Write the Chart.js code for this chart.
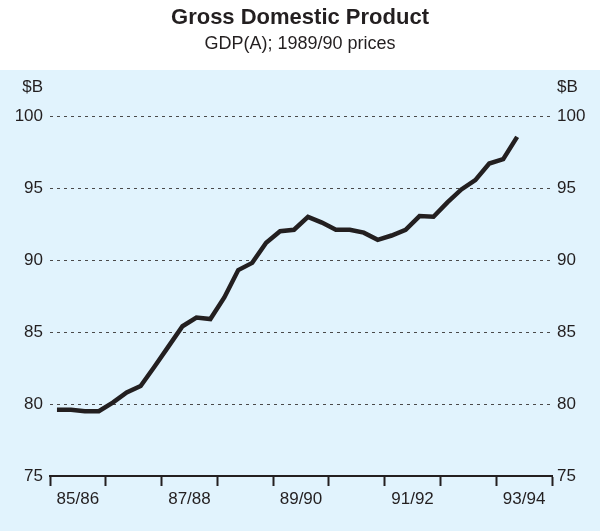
<!DOCTYPE html>
<html>
<head>
<meta charset="utf-8">
<script src="https://cdn.jsdelivr.net/npm/chart.js@4"></script>
<style>
  html, body { margin: 0; padding: 0; background: #fff; }
  #wrap { width: 600px; height: 531px; }
</style>
</head>
<body>
<div id="wrap"><canvas id="gdpChart" width="600" height="531"></canvas></div>
<script>
// financial years shown along the bottom
const yearLabels = ['85/86', '86/87', '87/88', '88/89', '89/90', '90/91', '91/92', '92/93', '93/94'];
// quarterly GDP(A), $B at 1989/90 prices, Sep 1985 to Dec 1993
const gdpValues = [
    79.6, 79.6, 79.5, 79.5, 80.1, 80.8, 81.25, 82.6, 84.0, 85.4,
    86.0, 85.9, 87.4, 89.3, 89.8, 91.2, 92.0, 92.1, 93.0, 92.6,
    92.1, 92.1, 91.9, 91.4, 91.7, 92.1, 93.05, 93.0, 94.0, 94.9,
    95.55, 96.7, 97.0, 98.55
];
const yTicks = [75, 80, 85, 90, 95, 100];

const ink = '#231f20';
const panelBlue = '#e1f3fd';
const font = 'Liberation Sans, Arial, Helvetica, sans-serif';

// quarters sit in the middle of each quarter slot
const gdpPoints = gdpValues.map((v, i) => ({ x: i + 0.5, y: v }));

const backdrop = {
    id: 'backdrop',
    beforeDraw(chart) {
        const ctx = chart.ctx;
        ctx.save();
        ctx.fillStyle = '#ffffff';
        ctx.fillRect(0, 0, chart.width, chart.height);
        ctx.fillStyle = panelBlue;
        ctx.fillRect(0, 70, chart.width, chart.height - 70);
        ctx.restore();
    },
    afterDraw(chart) {
        // unit labels above each y axis
        const ctx = chart.ctx;
        const y = chart.scales.y.top - 29;
        ctx.save();
        ctx.fillStyle = ink;
        ctx.font = '17px ' + font;
        ctx.textBaseline = 'middle';
        ctx.textAlign = 'right';
        ctx.fillText('$B', chart.scales.y.right - 7, y);
        ctx.textAlign = 'left';
        ctx.fillText('$B', chart.scales.y2.left + 5, y);
        ctx.restore();
    }
};

new Chart(document.getElementById('gdpChart'), {
    type: 'line',
    data: {
        labels: yearLabels,
        datasets: [{
            label: 'GDP(A)',
            data: gdpPoints,
            xAxisID: 'xq',
            yAxisID: 'y',
            borderColor: ink,
            borderWidth: 4.5,
            pointRadius: 0,
            tension: 0,
            fill: false,
        }],
    },
    options: {
        responsive: false,
        animation: false,
        devicePixelRatio: 1,
        layout: { padding: 0 },
        plugins: {
            legend: { display: false },
            tooltip: { enabled: false },
            title: {
                display: true,
                text: 'Gross Domestic Product',
                color: ink,
                font: { family: font, size: 22, weight: 'bold' },
                padding: { top: 5, bottom: 0 },
            },
            subtitle: {
                display: true,
                text: 'GDP(A); 1989/90 prices',
                color: ink,
                font: { family: font, size: 18 },
                padding: { top: 2, bottom: 61 },
            },
        },
        scales: {
            x: {
                type: 'category',
                position: 'bottom',
                offset: true,
                grid: {
                    offset: true,
                    drawOnChartArea: false,
                    drawTicks: true,
                    tickLength: 10,
                    tickWidth: 2,
                    tickColor: ink,
                },
                border: { display: true, color: ink, width: 2 },
                ticks: {
                    color: ink,
                    font: { family: font, size: 17 },
                    autoSkip: false,
                    maxRotation: 0,
                    padding: 3,
                    callback: (v, i) => (i % 2 === 0 ? yearLabels[i] : ''),
                },
                afterFit: (s) => { s.height = 55; },
            },
            xq: {
                type: 'linear',
                display: false,
                min: 0,
                max: yearLabels.length * 4,
            },
            y: {
                position: 'left',
                min: 75,
                max: 100,
                afterBuildTicks: (s) => { s.ticks = yTicks.map(v => ({ value: v })); },
                grid: {
                    drawTicks: false,
                    lineWidth: 1,
                    color: (c) => (c.tick && c.tick.value === 75 ? 'rgba(0,0,0,0)' : '#4a4a4a'),
                },
                border: { display: false, dash: [3, 4] },
                ticks: {
                    color: ink,
                    font: { family: font, size: 17 },
                    padding: 7,
                },
                afterFit: (s) => { s.width = 50; },
            },
            y2: {
                position: 'right',
                min: 75,
                max: 100,
                afterBuildTicks: (s) => { s.ticks = yTicks.map(v => ({ value: v })); },
                grid: { drawOnChartArea: false, drawTicks: false },
                border: { display: false },
                ticks: {
                    color: ink,
                    font: { family: font, size: 17 },
                    padding: 5,
                },
                afterFit: (s) => { s.width = 48; },
            },
        },
    },
    plugins: [backdrop],
});
</script>
</body>
</html>
